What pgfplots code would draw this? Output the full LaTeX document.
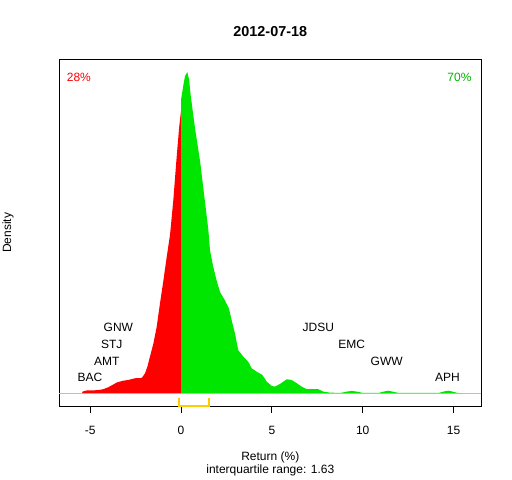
\documentclass[border=0pt]{standalone}
\usepackage{pgfplots}
\pgfplotsset{compat=1.18}
\usepackage{fontspec}
\setmainfont{Liberation Sans}
\definecolor{rred}{HTML}{FF0000}
\definecolor{ggreen}{HTML}{00E600}
\definecolor{tgreen}{HTML}{00B400}
\definecolor{gold}{HTML}{FFCC00}
\definecolor{lgray}{HTML}{BEBEBE}
\begin{document}
\begin{tikzpicture}[x=1bp,y=1bp]
\begin{axis}[anchor=south west, at={(0,0)}, scale only axis,
  width=422bp, height=346.7bp,
  xmin=-6.70, xmax=16.53, ymin=-12.9, ymax=335.9,
  ytick=\empty, xtick={-5,0,5,10,15},
  xtick pos=lower, tick align=outside, major tick length=7bp,
  axis line style={line width=0.9bp}, every tick/.style={black,line width=0.9bp},
  /pgf/number format/assume math mode=true,
  ticklabel style={font=\fontsize{12bp}{14bp}\selectfont},
  xticklabel style={inner sep=0pt, anchor=north, yshift=-13bp},
  clip=false]
\draw[lgray, line width=0.9bp] (axis cs:-6.70,0) -- (axis cs:16.53,0);
\addplot[fill=rred, draw=none] coordinates {
(-5.45,0) (-5.41,1.7) (-5.19,2.7) (-4.6,3) (-4.28,4) (-4.0,6) (-3.75,8.5) (-3.54,10.7)
(-3.2,12.5) (-2.9,13.3) (-2.53,15) (-2.16,15.3) (-1.98,20) (-1.85,26.7) (-1.71,36.7)
(-1.52,50) (-1.34,66.7) (-1.16,90) (-0.97,113.3) (-0.79,136.7) (-0.60,160) (-0.42,195)
(-0.26,233) (-0.11,266) (0,284)} \closedcycle;
\addplot[fill=ggreen, draw=none] coordinates {
(0,295) (0.13,310) (0.22,319) (0.35,323) (0.45,315) (0.53,300) (0.77,266.6) (1.05,233.3)
(1.27,200) (1.50,165) (1.60,143.3) (1.78,126.6) (1.96,113.3) (2.15,101.6) (2.42,93.3)
(2.64,85) (2.79,73.3) (2.97,60) (3.15,43.3) (3.43,36.7) (3.70,31.6) (3.89,25) (4.17,21.6)
(4.48,18.3) (4.72,11.6) (4.99,7.3) (5.17,6.6) (5.45,9.3) (5.82,14) (6.09,13.3) (6.37,10)
(6.64,6.6) (6.92,4) (7.56,4) (7.83,1.6) (8.2,0.5) (8.8,0.3) (9.1,1.5) (9.4,2.3) (9.7,1.5)
(10.0,0.3) (10.9,0.3) (11.15,1.6) (11.4,2.5) (11.65,1.6) (11.95,0.3) (14.2,0.3)
(14.45,1.6) (14.7,2.5) (14.95,1.6) (15.2,0.3) (15.5,0)} \closedcycle;
\begin{scope}[font=\fontsize{12bp}{14bp}\selectfont]
\node at (axis cs:-5.01,15.6) {BAC};
\node at (axis cs:-4.09,31.6) {AMT};
\node at (axis cs:-3.81,49) {STJ};
\node at (axis cs:-3.45,66) {GNW};
\node at (axis cs:7.56,66) {JDSU};
\node at (axis cs:9.39,49) {EMC};
\node at (axis cs:11.32,31.6) {GWW};
\node at (axis cs:14.66,15.6) {APH};
\end{scope}
\coordinate (b1) at (axis cs:-0.1,-5.0);
\coordinate (b2) at (axis cs:-0.1,-13.2);
\coordinate (b3) at (axis cs:1.53,-13.2);
\coordinate (b4) at (axis cs:1.53,-5.0);
\end{axis}
\draw[gold, line width=2.2bp] (b1) -- (b2) -- (b3) -- (b4);
\begin{scope}[font=\fontsize{12bp}{14bp}\selectfont]
\node[font=\bfseries\fontsize{14.4bp}{16bp}\selectfont] at (211,374.3) {2012-07-18};
\node at (211,-51) {Return (\%)};
\node at (211,-64.5) {interquartile range: 1.63};
\node[rotate=90] at (-51.3,173.3) {Density};
\node[anchor=west, inner sep=0pt, text=rred] at (7.4,328.3) {28\%};
\node[anchor=east, inner sep=0pt, text=tgreen] at (412.4,328.3) {70\%};
\end{scope}
\pgfresetboundingbox
\path[use as bounding box] (-59.3,-74) rectangle (452.7,406);
\end{tikzpicture}
\end{document}
